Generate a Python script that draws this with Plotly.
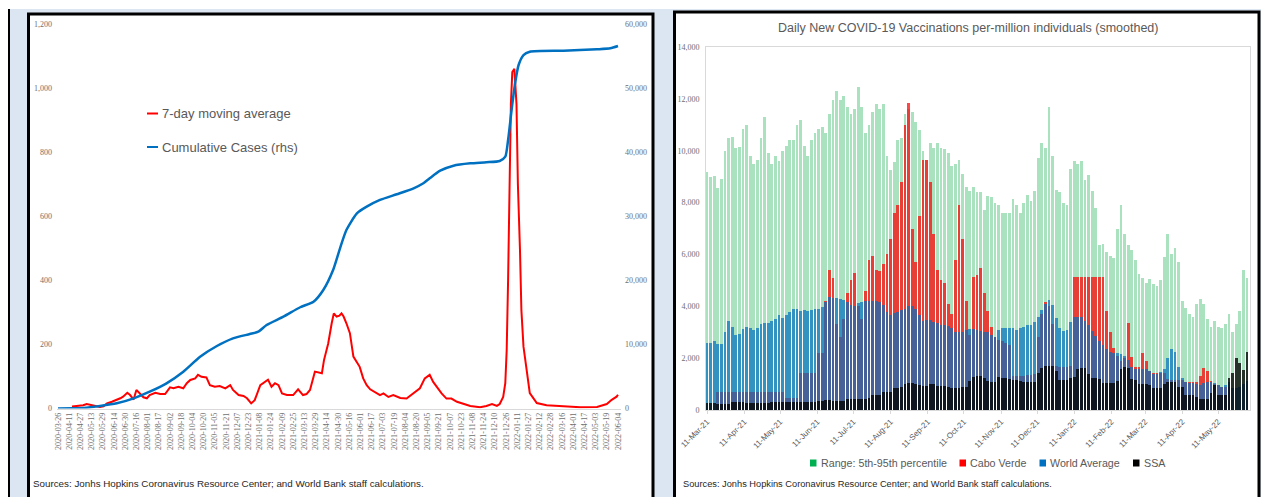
import pandas as pd
import plotly.graph_objects as go

W, H = 1261, 497


def px(x):
    return x / W


def py(y):
    return 1 - y / H


# ---------------- Left panel data (days since 2020-03-26) ----------------
CASES_START = pd.Timestamp("2020-03-26")
red_days = [20, 27, 36, 41, 46, 53, 60, 65, 70, 77, 84, 89, 93, 99, 103, 108, 112, 116, 122, 127,
            131, 139, 146, 153, 160, 165, 172, 179, 184, 189, 196, 200, 205, 212, 217, 224, 231, 239,
            246, 250, 258, 265, 270, 276, 281, 289, 296, 300, 305, 310, 315, 320, 327, 336, 343, 350,
            355, 360, 367, 372, 377, 380, 386, 391, 394, 398, 402, 405, 408, 412, 417, 422, 427, 431,
            436, 441, 446, 453, 460, 465, 472, 479, 489, 498, 508, 517, 524, 531, 536, 541, 548, 555,
            562, 570, 579, 589, 603, 612, 620, 627, 631, 636, 639, 641, 643, 645, 647, 649, 652, 655,
            657, 660, 662, 665, 670, 674, 684, 698, 722, 746, 770, 784, 791, 798, 800]
red_avg = [6, 8, 10, 14, 12, 10, 5, 7, 16, 21, 26, 32, 37, 49, 42, 28, 58, 49, 35, 32,
           42, 49, 45, 45, 66, 63, 68, 63, 79, 89, 94, 105, 99, 97, 73, 68, 70, 63,
           73, 58, 42, 39, 32, 16, 26, 73, 83, 90, 68, 79, 73, 47, 42, 42, 60, 42,
           45, 58, 115, 112, 110, 151, 203, 266, 297, 287, 290, 297, 287, 266, 235, 162, 146, 130,
           94, 73, 60, 52, 42, 47, 36, 42, 33, 31, 47, 63, 94, 105, 83, 68, 47, 31,
           31, 21, 14, 8, 4, 8, 14, 8, 14, 36, 79, 182, 400, 650, 950, 1050, 1060, 950,
           700, 494, 307, 193, 111, 48, 17, 10, 7, 4, 5, 14, 27, 37, 43]
cum_days = [0, 20, 36, 60, 84, 108, 131, 155, 179, 203, 227, 250, 274, 286, 298, 322, 346, 365,
            379, 393, 403, 412, 427, 441, 460, 484, 508, 522, 531, 546, 565, 589, 612, 631, 639,
            643, 648, 653, 658, 665, 674, 722, 770, 789, 800]
cum_cases = [0, 20, 80, 390, 810, 1590, 2620, 3930, 5740, 8080, 9750, 10950, 11620, 11980, 13030,
             14320, 15800, 16660, 18490, 21610, 25040, 27850, 30450, 31490, 32540, 33430, 34360,
             35140, 35920, 37110, 37890, 38260, 38420, 38620, 39290, 41900, 46580, 50740, 53600,
             55160, 55680, 55840, 56060, 56210, 56570]
left_y_ticks = [0, 200, 400, 600, 800, 1000, 1200]
right_y_ticks = [0, 10000, 20000, 30000, 40000, 50000, 60000]

# ---------------- Right panel data (every 3 days from 11-Mar-21) ----------------
VAX_START = "2021-03-11"
range_95 = [9190, 9000, 9010, 8560, 8900, 10000, 10500, 10520, 10100, 10150,
            10850, 11000, 9800, 9500, 9640, 10500, 11300, 9900, 9500, 9800,
            9600, 10000, 10200, 10400, 10400, 11000, 11200, 10200, 9800, 10400,
            10700, 10850, 10900, 10700, 11400, 11950, 12300, 11950, 12100, 11700,
            11400, 11600, 12450, 11700, 10700, 11000, 11500, 11800, 11600, 11800,
            9800, 9250, 9550, 10400, 10500, 11400, 11600, 11500, 11100, 10800,
            10000, 9640, 10300, 10120, 10280, 10100, 10050, 9900, 9400, 9500,
            9650, 9100, 8600, 8450, 8620, 8400, 8400, 7700, 8250, 8200,
            7970, 7900, 7590, 7590, 7600, 8150, 7900, 7600, 8000, 8300,
            8050, 8450, 9720, 10300, 10100, 11700, 9800, 8500, 8400, 8000,
            7900, 9300, 9600, 9500, 9600, 8870, 9050, 8450, 7800, 6350,
            6400, 6100, 5950, 5850, 7000, 7900, 6800, 6380, 6170, 5800,
            5250, 5100, 4900, 5050, 4870, 4800, 5000, 5900, 6800, 6000,
            6240, 5700, 4200, 3950, 3700, 3600, 4100, 4300, 4100, 3500,
            3200, 3450, 3200, 3150, 3300, 3700, 3000, 3300, 3800, 5400,
            5100]
cabo_verde = [0, 0, 0, 700, 700, 700, 700, 700, 700, 700,
              700, 700, 700, 700, 700, 700, 700, 700, 700, 700,
              700, 700, 450, 450, 450, 450, 1420, 1420, 1420, 1420,
              1420, 2200, 2200, 4200, 5400, 5100, 3300, 2800, 3500, 4500,
              5000, 5300, 4000, 3500, 4600, 5800, 5950, 5400, 5350, 5650,
              6000, 6600, 7600, 7900, 8800, 11000, 11850, 7000, 5700, 7500,
              9640, 9640, 8800, 6800, 5400, 5000, 4900, 4100, 3700, 5800,
              7900, 6600, 4200, 2900, 5140, 5200, 5470, 4500, 3800, 3200,
              2800, 2700, 2650, 2600, 2500, 1300, 1300, 1300, 1300, 1350,
              1350, 1400, 2800, 3700, 4170, 4000, 3300, 1700, 1650, 1650,
              1650, 1700, 5130, 5130, 5130, 5130, 5130, 5130, 5130, 5130,
              5130, 3800, 3000, 2400, 2100, 1900, 2000, 3340, 2060, 1670,
              1670, 2190, 1900, 1500, 1420, 1420, 1420, 1420, 1200, 1160,
              1160, 1160, 1160, 1090, 1090, 1090, 1090, 1300, 1610, 1500,
              1100, 1000, 960, 900, 900, 900, 0, 0, 0, 0,
              0]
world_avg = [2570, 2600, 2650, 2560, 2550, 3000, 3440, 3200, 2900, 2940,
             3120, 3210, 3150, 3090, 3160, 3300, 3360, 3360, 3420, 3500,
             3660, 3560, 3650, 3780, 3880, 3880, 3830, 3850, 3800, 3870,
             3880, 3900, 3970, 4150, 4340, 4310, 4310, 4270, 4240, 4180,
             4050, 4010, 4120, 4160, 4200, 4220, 4220, 4200, 4150, 4050,
             3790, 3680, 3740, 3790, 3860, 3900, 4000, 4010, 3880, 3650,
             3420, 3470, 3490, 3410, 3360, 3280, 3290, 3250, 3150, 3000,
             2990, 3010, 3080, 3110, 3110, 3070, 3060, 3020, 3000, 2900,
             2830, 3090, 3150, 3150, 3150, 3150, 3080, 3150, 3220, 3270,
             3280, 3400, 3600, 3860, 4090, 4240, 4050, 3550, 3150, 3040,
             3100, 3400, 3580, 3600, 3570, 3440, 3270, 3050, 2870, 2650,
             2500, 2350, 2240, 2200, 2200, 2170, 2070, 1930, 1670, 1570,
             1590, 1570, 1570, 1500, 1400, 1400, 1480, 1600, 2000, 2350,
             2250, 1670, 1250, 1090, 1060, 1030, 1000, 980, 1030, 1090,
             1090, 1060, 960, 900, 960, 1090, 830, 830, 900, 1000,
             1100]
ssa = [270, 270, 260, 250, 230, 230, 250, 300, 310, 310,
       300, 280, 280, 280, 280, 280, 280, 280, 290, 300,
       310, 310, 310, 310, 310, 310, 310, 310, 310, 310,
       310, 340, 360, 370, 370, 360, 350, 350, 350, 430,
       440, 440, 440, 440, 440, 450, 570, 570, 570, 700,
       700, 700, 830, 830, 900, 1000, 1050, 1050, 1000, 960,
       920, 920, 1000, 1000, 920, 920, 920, 880, 830, 830,
       830, 870, 900, 1100, 1290, 1300, 1300, 1220, 1100, 1090,
       1090, 1290, 1220, 1220, 1200, 1160, 1160, 1100, 1090, 1090,
       1090, 1090, 1410, 1610, 1700, 1700, 1680, 1500, 1160, 1160,
       1160, 1250, 1290, 1600, 1610, 1610, 1400, 1220, 1220, 1200,
       1030, 1030, 1030, 1030, 1130, 1600, 1640, 1610, 1200, 1160,
       1000, 1000, 1000, 950, 830, 830, 830, 1000, 1090, 1090,
       1090, 900, 880, 570, 570, 570, 500, 440, 440, 440,
       650, 960, 570, 570, 570, 1220, 1410, 2000, 1800, 1540,
       2250]
vax_y_ticks = [0, 2000, 4000, 6000, 8000, 10000, 12000, 14000]

# ---------------- derived x values ----------------
red_dates = [CASES_START + pd.Timedelta(days=d) for d in red_days]
cum_dates = [CASES_START + pd.Timedelta(days=d) for d in cum_days]
left_x_ticks = pd.date_range(CASES_START, "2022-06-04", freq="16D")
vax_dates = pd.date_range(VAX_START, periods=len(range_95), freq="3D")
vax_x_ticks = pd.date_range(VAX_START, "2022-05-11", freq=pd.DateOffset(months=1))

GRAY_TXT = "#595959"
TICK_TXT = "#6e6e6e"
SANS = "Liberation Sans, Arial, sans-serif"
SERIF = "Liberation Serif, serif"

fig = go.Figure()

# Left panel traces
fig.add_trace(go.Scatter(x=red_dates, y=red_avg, mode="lines", name="7-day moving average",
                         line=dict(color="#ff0000", width=2), xaxis="x", yaxis="y"))
fig.add_trace(go.Scatter(x=cum_dates, y=cum_cases, mode="lines", name="Cumulative Cases (rhs)",
                         line=dict(color="#0070c0", width=2.5, shape="spline", smoothing=0.6),
                         xaxis="x", yaxis="y2"))

# Right panel traces
bw = 2.2 * 86400000
fig.add_trace(go.Bar(x=vax_dates, y=range_95, name="Range: 5th-95th percentile", width=bw,
                     marker=dict(color="#aae2c0", line=dict(width=0)), xaxis="x3", yaxis="y3"))
fig.add_trace(go.Bar(x=vax_dates, y=cabo_verde, name="Cabo Verde", width=bw,
                     marker=dict(color="rgba(255,0,0,0.72)", line=dict(width=0)), xaxis="x3", yaxis="y3"))
fig.add_trace(go.Bar(x=vax_dates, y=world_avg, name="World Average", width=bw,
                     marker=dict(color="rgba(0,112,192,0.70)", line=dict(width=0)), xaxis="x3", yaxis="y3"))
fig.add_trace(go.Bar(x=vax_dates, y=ssa, name="SSA", width=bw,
                     marker=dict(color="rgba(0,0,0,0.78)", line=dict(width=0)), xaxis="x3", yaxis="y3"))

day = pd.Timedelta(days=1)
shapes = [
    dict(type="rect", xref="paper", yref="paper", x0=px(10), x1=px(1262), y0=py(9), y1=py(500),
         fillcolor="#dce6f2", line=dict(width=0), layer="below"),
    dict(type="line", xref="paper", yref="paper", x0=px(9), x1=px(9), y0=py(9), y1=py(500),
         line=dict(color="black", width=2), layer="below"),
    dict(type="rect", xref="paper", yref="paper", x0=px(28.5), x1=px(653), y0=py(14), y1=py(505),
         fillcolor="white", line=dict(color="black", width=3), layer="below"),
    dict(type="rect", xref="paper", yref="paper", x0=px(674.5), x1=px(1259), y0=py(12), y1=py(505),
         fillcolor="white", line=dict(color="black", width=3), layer="below"),
    # left legend keys
    dict(type="line", xref="paper", yref="paper", x0=px(147), x1=px(158), y0=py(113.5), y1=py(113.5),
         line=dict(color="#ff0000", width=2)),
    dict(type="line", xref="paper", yref="paper", x0=px(147), x1=px(158), y0=py(147), y1=py(147),
         line=dict(color="#0070c0", width=2)),
]
legend_keys = [(810, "#00b050"), (959.5, "#ff0000"), (1039.5, "#0070c0"), (1133, "#000000")]
for x0, c in legend_keys:
    shapes.append(dict(type="rect", xref="paper", yref="paper", x0=px(x0), x1=px(x0 + 6.5),
                       y0=py(466.5), y1=py(459.5), fillcolor=c, line=dict(width=0)))

annotations = [
    dict(text="7-day moving average", x=px(160), y=py(113.5), xref="paper", yref="paper",
         xanchor="left", yanchor="middle", showarrow=False, font=dict(family=SANS, size=13, color=GRAY_TXT)),
    dict(text="Cumulative Cases (rhs)", x=px(160), y=py(147), xref="paper", yref="paper",
         xanchor="left", yanchor="middle", showarrow=False, font=dict(family=SANS, size=13, color=GRAY_TXT)),
    dict(text="Sources: Jonhs Hopkins Coronavirus Resource Center; and World Bank staff calculations.",
         x=px(31), y=py(483.5), xref="paper", yref="paper", xanchor="left", yanchor="middle",
         showarrow=False, font=dict(family=SANS, size=9.8, color="#262626")),
    dict(text="Sources: Jonhs Hopkins Coronavirus Resource Center; and World Bank staff calculations.",
         x=px(681), y=py(484), xref="paper", yref="paper", xanchor="left", yanchor="middle",
         showarrow=False, font=dict(family=SANS, size=9.25, color="#262626")),
    dict(text="Daily New COVID-19 Vaccinations per-million individuals (smoothed)",
         x=px(967.5), y=py(28), xref="paper", yref="paper", xanchor="center", yanchor="middle",
         showarrow=False, font=dict(family=SANS, size=12.5, color=GRAY_TXT)),
]
legend_texts = [(818.5, "Range: 5th-95th percentile", 10.7), (968, "Cabo Verde", 10.7),
                (1048, "World Average", 10.7), (1141.5, "SSA", 10.7)]
for x0, t, s in legend_texts:
    annotations.append(dict(text=t, x=px(x0), y=py(463), xref="paper", yref="paper",
                            xanchor="left", yanchor="middle", showarrow=False,
                            font=dict(family=SANS, size=s, color=GRAY_TXT)))

fig.update_layout(
    width=W, height=H, margin=dict(l=0, r=0, t=0, b=0, pad=0, autoexpand=False),
    paper_bgcolor="white", plot_bgcolor="rgba(0,0,0,0)",
    showlegend=False, barmode="overlay", bargap=0, hovermode=False,
    shapes=shapes, annotations=annotations,
    xaxis=dict(domain=[px(57), px(621)], anchor="y", type="date", automargin=False,
               range=[CASES_START - 1.43 * day, CASES_START + 804.3 * day],
               tickvals=list(left_x_ticks), ticktext=[d.strftime("%Y-%m-%d") for d in left_x_ticks],
               tickangle=-90, tickfont=dict(family=SERIF, size=8, color=TICK_TXT),
               showline=True, linecolor="#d9d9d9", linewidth=1, ticks="", showgrid=False, zeroline=False),
    yaxis=dict(domain=[py(408.5), py(24)], anchor="x", range=[0, 1200], tickvals=left_y_ticks,
               automargin=False, tickformat=",", tickfont=dict(family=SERIF, size=8, color=TICK_TXT),
               showgrid=False, zeroline=False, showline=False, ticklabelstandoff=4),
    yaxis2=dict(overlaying="y", anchor="x", side="right", range=[0, 60000], tickvals=right_y_ticks,
                automargin=False, tickformat=",", tickfont=dict(family=SERIF, size=8, color=TICK_TXT),
                showgrid=False, zeroline=False, showline=False, ticklabelstandoff=3),
    xaxis3=dict(domain=[px(706), px(1250)], anchor="y3", type="date", automargin=False,
                range=[pd.Timestamp(VAX_START) - 0.83 * day, pd.Timestamp(VAX_START) + 452.5 * day],
                tickvals=list(vax_x_ticks), ticktext=[d.strftime("%d-%b-%y") for d in vax_x_ticks],
                tickangle=-45, tickfont=dict(family=SANS, size=8, color=GRAY_TXT),
                showline=True, linecolor="#d9d9d9", linewidth=1, mirror=True,
                ticks="outside", ticklen=3, tickcolor="#d9d9d9", showgrid=False, zeroline=False),
    yaxis3=dict(domain=[py(410), py(47)], anchor="x3", range=[0, 14000], tickvals=vax_y_ticks,
                automargin=False, tickformat=",", tickfont=dict(family=SERIF, size=8, color=TICK_TXT),
                showline=True, linecolor="#d9d9d9", linewidth=1, mirror=True,
                showgrid=False, zeroline=False, ticks="", ticklabelstandoff=4),
)

fig.write_html(
    "out.html",
    config={"displayModeBar": False, "staticPlot": True},
    post_script="document.body.style.margin='0px';document.body.style.overflow='hidden';",
)
